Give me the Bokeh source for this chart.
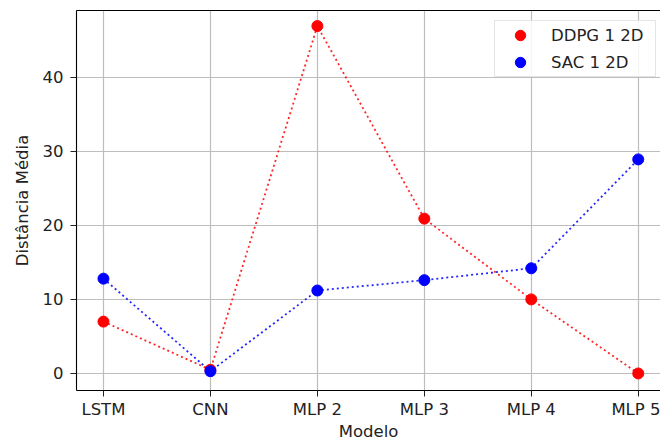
from bokeh.plotting import figure
from bokeh.models import (ColumnDataSource, FixedTicker, LinearAxis, Range1d,
                          Legend, LegendItem)
from bokeh.embed import file_html
from bokeh.resources import INLINE

categories = ["LSTM", "CNN", "MLP 2", "MLP 3", "MLP 4", "MLP 5"]
ddpg_values = [7.0, 0.5, 46.9, 20.9, 10.0, 0.0]
sac_values = [12.8, 0.3, 11.2, 12.6, 14.2, 28.9]
y_ticks = [0, 10, 20, 30, 40]

FONT = "DejaVu Sans"
FS = "16.5px"

xs = list(range(len(categories)))
src = ColumnDataSource(dict(x=xs, ddpg=ddpg_values, sac=sac_values))

p = figure(width=660, height=443, output_backend="svg", toolbar_location=None,
           x_range=Range1d(-0.252, 5.208), y_range=Range1d(-2.3, 49.0),
           min_border_left=76, min_border_right=0, min_border_top=10,
           min_border_bottom=52)
p.background_fill_color = "white"
p.border_fill_color = "white"
p.outline_line_color = None

ddpg_line = p.line("x", "ddpg", source=src, line_color="red", line_width=1.8,
                   line_dash="2 3", line_alpha=0.85)
ddpg_pts = p.scatter("x", "ddpg", source=src, size=11, color="red")
sac_line = p.line("x", "sac", source=src, line_color="blue", line_width=1.8,
                  line_dash="2 3", line_alpha=0.85)
sac_pts = p.scatter("x", "sac", source=src, size=11, color="blue")

for ax in (p.xaxis[0], p.yaxis[0]):
    ax.axis_line_color = "black"
    ax.axis_line_width = 1.1
    ax.major_tick_out = 6
    ax.major_tick_in = 0
    ax.major_tick_line_color = "#222222"
    ax.minor_tick_out = 0
    ax.minor_tick_in = 0
    ax.major_label_text_font = FONT
    ax.major_label_text_font_size = FS
    ax.major_label_text_color = "#222222"
    ax.axis_label_text_font = FONT
    ax.axis_label_text_font_size = FS
    ax.axis_label_text_font_style = "normal"
    ax.axis_label_text_color = "#222222"

p.xaxis.ticker = FixedTicker(ticks=xs)
p.xaxis.major_label_overrides = {i: c for i, c in enumerate(categories)}
p.xaxis.axis_label = "Modelo"
p.xaxis.major_label_standoff = 3
p.xaxis.axis_label_standoff = 0

p.yaxis.ticker = FixedTicker(ticks=y_ticks)
p.yaxis.axis_label = "Distância Média"
p.yaxis.major_label_standoff = 7
p.yaxis.axis_label_standoff = 8

top = LinearAxis(ticker=FixedTicker(ticks=[]), axis_line_color="black",
                 axis_line_width=1.1, major_tick_out=0, major_tick_in=0,
                 minor_tick_out=0, minor_tick_in=0)
p.add_layout(top, "above")

p.xgrid.grid_line_color = "#bdbdbd"
p.xgrid.grid_line_width = 1.2
p.ygrid.grid_line_color = "#bdbdbd"
p.ygrid.grid_line_width = 1.2

legend = Legend(items=[LegendItem(label="DDPG 1 2D", renderers=[ddpg_pts]),
                       LegendItem(label="SAC 1 2D", renderers=[sac_pts])],
                location=(418, 313), padding=1, spacing=1,
                glyph_width=48, glyph_height=26, label_height=26,
                label_width=103,
                label_standoff=7, label_text_font=FONT,
                label_text_font_size=FS, label_text_color="#222222",
                border_line_color="#cccccc", border_line_width=1,
                background_fill_alpha=0.85, margin=0)
p.add_layout(legend)

open("out.html", "w").write(file_html(p, INLINE))
